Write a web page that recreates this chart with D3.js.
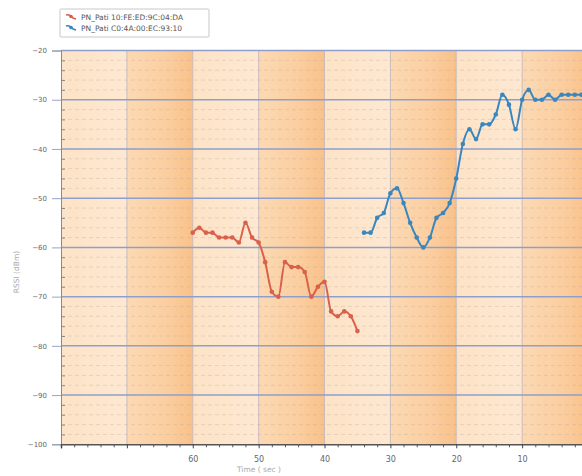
<!DOCTYPE html>
<html>
<head>
<meta charset="utf-8">
<style>
  body { margin: 0; background: #fff; }
  text { font-family: "DejaVu Sans", sans-serif; }
</style>
</head>
<body>
<svg width="582" height="476"></svg>
<script src="https://d3js.org/d3.v7.min.js"></script>
<script>
  var svg = d3.select("svg"),
      margin = {top: 50.5, left: 61, bottom: 31.7},
      height = +svg.attr("height") - margin.top - margin.bottom;

  var seriesNames = ["PN_Pati 10:FE:ED:9C:04:DA", "PN_Pati C0:4A:00:EC:93:10"];
  var seriesColors = ["#d9604a", "#3a86bf"];

  // red series: one sample per second, 60 s down to 35 s
  var redTimes = d3.range(60, 34, -1);
  var redValues = [-57, -56, -57, -57, -58, -58, -58, -59, -55, -58, -59, -63, -69,
                   -70, -63, -64, -64, -65, -70, -68, -67, -73, -74, -73, -74, -77];

  // blue series: 34 s down to 1 s
  var blueTimes = d3.range(34, 0, -1);
  var blueValues = [-57, -57, -54, -53, -49, -48, -51, -55, -58, -60, -58, -54, -53, -51,
                    -46, -39, -36, -38, -35, -35, -33, -29, -31, -36, -30, -28, -30, -30,
                    -29, -30, -29, -29, -29, -29];

  var xTickLabels = [60, 50, 40, 30, 20, 10];
  var yTicks = [-20, -30, -40, -50, -60, -70, -80, -90, -100];

  var x = d3.scaleLinear().domain([80, 0]).range([0, 527]);
  var y = d3.scaleLinear().domain([-100, -20]).range([height, 0]);

  var defs = svg.append("defs");
  var gDark = defs.append("linearGradient").attr("id", "dark");
  gDark.append("stop").attr("offset", "0%").attr("stop-color", "#fcd9b3");
  gDark.append("stop").attr("offset", "60%").attr("stop-color", "#fbcea0");
  gDark.append("stop").attr("offset", "100%").attr("stop-color", "#f9c189");
  var gLight = defs.append("linearGradient").attr("id", "light");
  gLight.append("stop").attr("offset", "0%").attr("stop-color", "#fde3c6");
  gLight.append("stop").attr("offset", "100%").attr("stop-color", "#fee8d2");

  var g = svg.append("g").attr("transform", "translate(" + margin.left + "," + margin.top + ")");

  // background bands, 10 s wide
  var bands = d3.range(80, 0, -10);
  g.selectAll(".band").data(bands).enter().append("rect")
      .attr("x", function(d) { return x(d); })
      .attr("y", 0)
      .attr("width", function(d) { return x(d - 10) - x(d); })
      .attr("height", height)
      .attr("fill", function(d, i) { return i % 2 ? "url(#dark)" : "url(#light)"; });

  // minor horizontal grid (every 2 dBm)
  var minorY = d3.range(-98, -20, 2).filter(function(v) { return v % 10 !== 0; });
  g.selectAll(".minor").data(minorY).enter().append("line")
      .attr("x1", 0).attr("x2", x(0))
      .attr("y1", function(d) { return y(d); })
      .attr("y2", function(d) { return y(d); })
      .attr("stroke", "#b9a898")
      .attr("stroke-opacity", 0.4)
      .attr("stroke-dasharray", "4,3")
      .attr("stroke-width", 0.8);

  // vertical grid
  g.selectAll(".vgrid").data(d3.range(70, 0, -10)).enter().append("line")
      .attr("x1", function(d) { return x(d); })
      .attr("x2", function(d) { return x(d); })
      .attr("y1", 0).attr("y2", height)
      .attr("stroke", "#a9a3b3")
      .attr("stroke-opacity", 0.6)
      .attr("stroke-width", 1);

  // major horizontal grid
  g.selectAll(".major").data(yTicks.slice(0, -1)).enter().append("line")
      .attr("x1", 0).attr("x2", x(0))
      .attr("y1", function(d) { return y(d); })
      .attr("y2", function(d) { return y(d); })
      .attr("stroke", "#8e9fcb")
      .attr("stroke-width", 1.5);

  // y axis
  var yAxis = g.append("g")
      .call(d3.axisLeft(y).tickValues(yTicks).tickSize(9).tickPadding(5));
  yAxis.select(".domain").attr("stroke", "#8a8a8a");
  yAxis.selectAll(".tick line").attr("stroke", "#9aa4c4");
  yAxis.selectAll("text").attr("fill", "#666").style("font-size", "7px");
  g.append("g")
      .call(d3.axisLeft(y).tickValues(minorY).tickSize(-4).tickFormat(""))
      .call(function(a) { a.select(".domain").remove(); })
      .selectAll("line").attr("stroke", "#8a8a8a");

  // x axis
  var xAxis = g.append("g")
      .attr("transform", "translate(0," + height + ")")
      .call(d3.axisBottom(x).tickValues(d3.range(80, -1, -10)).tickSize(4).tickPadding(8)
        .tickFormat(function(d) { return xTickLabels.indexOf(d) >= 0 ? d : ""; }));
  xAxis.select(".domain").attr("stroke", "#555").attr("stroke-width", 1.5);
  xAxis.selectAll(".tick line").attr("stroke", "#444");
  xAxis.selectAll("text").attr("fill", "#666").style("font-size", "8px");
  g.append("g")
      .attr("transform", "translate(0," + height + ")")
      .call(d3.axisBottom(x).tickValues(d3.range(80, 0, -2).filter(function(v) { return v % 10 !== 0; }))
        .tickSize(3).tickFormat(""))
      .call(function(a) { a.select(".domain").remove(); })
      .selectAll("line").attr("stroke", "#555");

  // axis titles
  svg.append("text")
      .attr("transform", "translate(19," + (margin.top + y(-65)) + ") rotate(-90)")
      .attr("text-anchor", "middle")
      .attr("fill", "#aaa")
      .style("font-size", "7.5px")
      .text("RSSI (dBm)");
  svg.append("text")
      .attr("x", 259).attr("y", 472)
      .attr("text-anchor", "middle")
      .attr("fill", "#aaa")
      .style("font-size", "7.5px")
      .text("Time ( sec )");

  // series
  var series = [
    {times: redTimes, values: redValues},
    {times: blueTimes, values: blueValues}
  ];
  var line = d3.line()
      .x(function(d) { return x(d[0]); })
      .y(function(d) { return y(d[1]); })
      .curve(d3.curveMonotoneX);

  series.forEach(function(s, i) {
    var pts = d3.zip(s.times, s.values);
    g.append("path")
        .datum(pts)
        .attr("fill", "none")
        .attr("stroke", seriesColors[i])
        .attr("stroke-width", 2)
        .attr("stroke-linejoin", "round")
        .attr("d", line);
    g.selectAll(".pt" + i).data(pts).enter().append("circle")
        .attr("cx", function(d) { return x(d[0]); })
        .attr("cy", function(d) { return y(d[1]); })
        .attr("r", 2.3)
        .attr("fill", seriesColors[i]);
  });

  // legend
  var legend = svg.append("g").attr("transform", "translate(60,9)");
  legend.append("rect")
      .attr("width", 149).attr("height", 28)
      .attr("fill", "#fff")
      .attr("stroke", "#c8c8c8")
      .attr("rx", 1);
  seriesNames.forEach(function(name, i) {
    var row = legend.append("g").attr("transform", "translate(6," + (8 + i * 11) + ")");
    row.append("path")
        .attr("d", "M0,-2 Q4,-3 7,1 L10,2")
        .attr("fill", "none")
        .attr("stroke", seriesColors[i])
        .attr("stroke-width", 1.5);
    row.append("circle").attr("cx", 5).attr("cy", -0.5).attr("r", 1.8).attr("fill", seriesColors[i]);
    row.append("text")
        .attr("x", 15).attr("y", 3)
        .attr("fill", "#555")
        .style("font-size", "7.5px")
        .text(name);
  });
</script>
</body>
</html>
